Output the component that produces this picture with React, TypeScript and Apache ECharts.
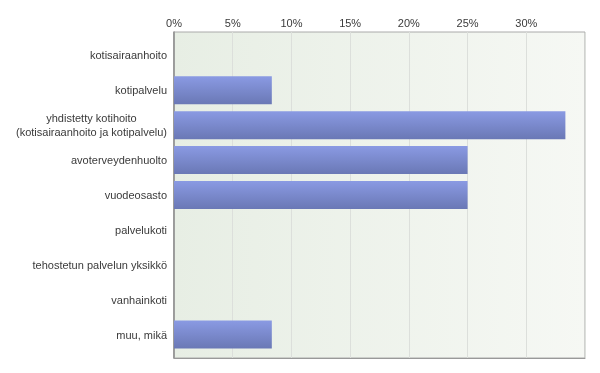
import React, { useEffect, useRef } from "react";
import * as echarts from "echarts";

const categories = [
  "kotisairaanhoito",
  "kotipalvelu",
  "yhdistetty kotihoito\n(kotisairaanhoito ja kotipalvelu)",
  "avoterveydenhuolto",
  "vuodeosasto",
  "palvelukoti",
  "tehostetun palvelun yksikkö",
  "vanhainkoti",
  "muu, mikä",
];
const values = [0, 8.33, 33.33, 25, 25, 0, 0, 0, 8.33];
const xMin = 0;
const xMax = 35;
const xInterval = 5;

export default function App() {
  const ref = useRef<HTMLDivElement>(null);
  useEffect(() => {
    if (!ref.current) return;
    const chart = echarts.init(ref.current, undefined, { renderer: "svg" });
    const font = "'Liberation Sans', Arial, sans-serif";
    chart.setOption({
      animation: false,
      grid: [
        {
          left: 174,
          right: 15,
          top: 32,
          bottom: 15,
          show: true,
          backgroundColor: new echarts.graphic.LinearGradient(0, 0, 1, 0, [
            { offset: 0, color: "#e7eee4" },
            { offset: 1, color: "#f6f8f4" },
          ]),
          borderColor: "#aaaaaa",
          borderWidth: 1,
        },
        { left: 174, right: 15, top: 38, bottom: 21 },
      ],
      xAxis: [
        {
          type: "value",
          gridIndex: 0,
          position: "top",
          min: xMin,
          max: xMax,
          interval: xInterval,
          axisLine: { show: true, lineStyle: { color: "#999999" } },
          axisTick: { show: false },
          axisLabel: {
            color: "#3a3a3a",
            fontFamily: font,
            fontSize: 11,
            margin: 4,
            showMaxLabel: false,
            formatter: (v: number) => `${v}%`,
          },
          splitLine: { show: true, lineStyle: { color: "#dcdfdb" } },
        },
        {
          type: "value",
          gridIndex: 1,
          min: xMin,
          max: xMax,
          show: false,
        },
      ],
      yAxis: [
        {
          type: "value",
          gridIndex: 0,
          min: 0,
          max: 1,
          axisLine: { show: true, lineStyle: { color: "#888888", width: 1.5 } },
          axisTick: { show: false },
          axisLabel: { show: false },
          splitLine: { show: false },
        },
        {
          type: "category",
          gridIndex: 1,
          data: categories,
          inverse: true,
          axisLine: { show: false },
          axisTick: { show: false },
          axisLabel: {
            color: "#3a3a3a",
            fontFamily: font,
            fontSize: 11,
            margin: 7,
            lineHeight: 14,
            formatter: (v: string) =>
              v
                .split("\n")
                .map((s) => `{c|${s}}`)
                .join("\n"),
            rich: {
              c: {
                align: "center",
                color: "#3a3a3a",
                fontFamily: font,
                fontSize: 11,
                lineHeight: 14,
              },
            },
          },
        },
      ],
      series: [
        {
          type: "bar",
          xAxisIndex: 1,
          yAxisIndex: 1,
          data: values,
          barWidth: 28,
          itemStyle: {
            color: new echarts.graphic.LinearGradient(0, 0, 0, 1, [
              { offset: 0, color: "#8a9ae3" },
              { offset: 1, color: "#6a78b5" },
            ]),
            borderWidth: 0,
          },
        },
      ],
    });
    return () => chart.dispose();
  }, []);
  return (
    <div
      ref={ref}
      style={{ position: "fixed", left: 0, top: 0, width: 600, height: 373 }}
    />
  );
}
